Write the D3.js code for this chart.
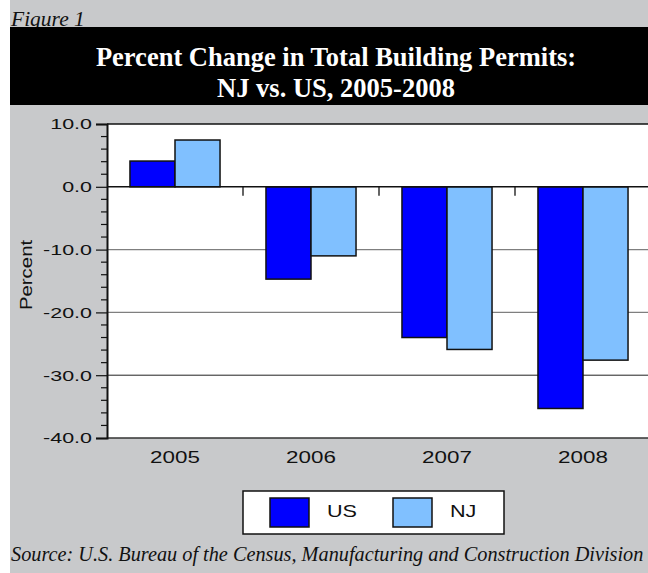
<!DOCTYPE html>
<html>
<head>
<meta charset="utf-8">
<script src="https://cdn.jsdelivr.net/npm/d3@7"></script>
<style>
  html, body { margin: 0; padding: 0; background: #ffffff; }
  svg { display: block; }
</style>
</head>
<body>
<div id="chart"></div>
<script>
// ---- data ----
const years = ["2005", "2006", "2007", "2008"];
const seriesNames = ["US", "NJ"];
const usValues = [4.1, -14.7, -24.0, -35.3];
const njValues = [7.45, -11.0, -25.9, -27.6];
const yTicks = [10, 0, -10, -20, -30, -40];
const titleLines = ["Percent Change in Total Building Permits:", "NJ vs. US, 2005-2008"];
const figureLabel = "Figure 1";
const sourceText = "Source: U.S. Bureau of the Census, Manufacturing and Construction Division";
const yAxisTitle = "Percent";

const colors = { US: "#0000ff", NJ: "#80c0ff" };
const W = 648, H = 573;
const sansFont = "'Liberation Sans', Arial, sans-serif";
const serifFont = "'Liberation Serif', 'Times New Roman', serif";

const svg = d3.select("#chart").append("svg").attr("width", W).attr("height", H);

// background
svg.append("rect").attr("x", 10).attr("y", 0).attr("width", W - 10).attr("height", H).attr("fill", "#c8c9cb");

svg.append("text").attr("x", 11).attr("y", 26).text(figureLabel)
  .attr("font-family", serifFont).attr("font-style", "italic").attr("font-size", 21.5).attr("fill", "#111");
// black title band (covers the descenders of the figure label)
svg.append("rect").attr("x", 10).attr("y", 27).attr("width", W - 10).attr("height", 78).attr("fill", "#000");

svg.selectAll("text.title").data(titleLines).enter().append("text").attr("class", "title")
  .attr("x", 336).attr("y", (d, i) => 66 + i * 31)
  .attr("text-anchor", "middle").attr("font-family", serifFont).attr("font-weight", "bold")
  .attr("font-size", 26.5).attr("fill", "#fff").text(d => d);

// plot area
const plot = { left: 107, top: 124, right: 651, bottom: 438 };
const y = d3.scaleLinear().domain([-40, 10]).range([plot.bottom, plot.top]);
const x0 = d3.scaleBand().domain(years).range([plot.left, plot.right]).padding(0);
const x1 = d3.scaleBand().domain(seriesNames).range([0, x0.bandwidth()]).paddingInner(0).paddingOuter(0.51);

svg.append("rect").attr("x", plot.left).attr("y", plot.top)
  .attr("width", plot.right - plot.left).attr("height", plot.bottom - plot.top).attr("fill", "#fff");

// gridlines
svg.selectAll("line.grid").data([-10, -20, -30]).enter().append("line").attr("class", "grid")
  .attr("x1", plot.left).attr("x2", plot.right)
  .attr("y1", d => y(d)).attr("y2", d => y(d))
  .attr("stroke", d => d === -30 ? "#222" : "#7f7f7f").attr("stroke-width", d => d === -30 ? 1 : 1.3);

// bars
const rows = years.map((yr, i) => ({ year: yr, US: usValues[i], NJ: njValues[i] }));
const g = svg.append("g");
rows.forEach(r => {
  seriesNames.forEach(s => {
    const v = r[s];
    g.append("rect")
      .attr("x", x0(r.year) + x1(s))
      .attr("width", x1.bandwidth())
      .attr("y", y(Math.max(0, v)))
      .attr("height", Math.abs(y(v) - y(0)))
      .attr("fill", colors[s]).attr("stroke", "#111").attr("stroke-width", 1.5);
  });
});

// zero line & category ticks
svg.append("line").attr("x1", plot.left).attr("x2", plot.right).attr("y1", y(0)).attr("y2", y(0))
  .attr("stroke", "#111").attr("stroke-width", 1.5);
svg.selectAll("line.ctick").data(years.slice(1)).enter().append("line").attr("class", "ctick")
  .attr("x1", d => x0(d)).attr("x2", d => x0(d)).attr("y1", y(0)).attr("y2", y(0) + 9)
  .attr("stroke", "#111").attr("stroke-width", 1.3);

// frame
svg.append("line").attr("x1", plot.left).attr("x2", plot.right).attr("y1", plot.top).attr("y2", plot.top)
  .attr("stroke", "#111").attr("stroke-width", 1.5);
svg.append("line").attr("x1", plot.left).attr("x2", plot.right).attr("y1", plot.bottom).attr("y2", plot.bottom)
  .attr("stroke", "#333").attr("stroke-width", 1.5);

// left axis
const yAxis = d3.axisLeft(y).tickValues(yTicks).tickSize(11).tickFormat(d3.format(".1f"));
const ax = svg.append("g").attr("transform", `translate(${plot.left},0)`).call(yAxis);
ax.select(".domain").attr("stroke", "#111").attr("stroke-width", 2);
ax.selectAll(".tick line").attr("stroke", "#111").attr("stroke-width", 1.2);
ax.selectAll(".tick text").remove();
const minor = d3.range(-40, 10.01, 2).filter(v => v % 10 !== 0);
ax.selectAll("line.minor").data(minor).enter().append("line").attr("class", "minor")
  .attr("x1", -6).attr("x2", 0).attr("y1", d => y(d)).attr("y2", d => y(d))
  .attr("stroke", "#111").attr("stroke-width", 1.2);

function stretchedText(parent, x, yy, txt, size, sx, anchor, rotate) {
  return parent.append("text")
    .attr("transform", `translate(${x},${yy})` + (rotate ? ` rotate(${rotate})` : "") + ` scale(${sx},1)`)
    .attr("text-anchor", anchor).attr("font-family", sansFont).attr("font-size", size)
    .attr("fill", "#111").text(txt);
}

yTicks.forEach(v => {
  const txt = (v < 0 ? "-" : "") + d3.format(".1f")(Math.abs(v));
  stretchedText(svg, 92, y(v) + 5.3, txt, 15, 1.43, "end");
});

years.forEach(yr => {
  stretchedText(svg, x0(yr) + x0.bandwidth() / 2, 462.5, yr, 16, 1.4, "middle");
});

stretchedText(svg, 32, 275, yAxisTitle, 17, 1.2, "middle", -90);

// legend
svg.append("rect").attr("x", 243).attr("y", 491).attr("width", 261).attr("height", 43)
  .attr("fill", "#fff").attr("stroke", "#111").attr("stroke-width", 1.5);
const legendX = { US: 270, NJ: 393 };
seriesNames.forEach(s => {
  svg.append("rect").attr("x", legendX[s]).attr("y", 498).attr("width", 39).attr("height", 29)
    .attr("fill", colors[s]).attr("stroke", "#111").attr("stroke-width", 1.5);
  stretchedText(svg, legendX[s] + 57, 517, s, 17, 1.27, "start");
});

// source (sized to fit fully inside the window)
const src = svg.append("text").attr("x", 11).attr("y", 561).text(sourceText)
  .attr("font-family", serifFont).attr("font-style", "italic").attr("font-size", 21).attr("fill", "#111");
const srcLen = src.node().getComputedTextLength();
if (srcLen > W - 15) src.attr("font-size", 21 * (W - 15) / srcLen);
</script>
</body>
</html>
